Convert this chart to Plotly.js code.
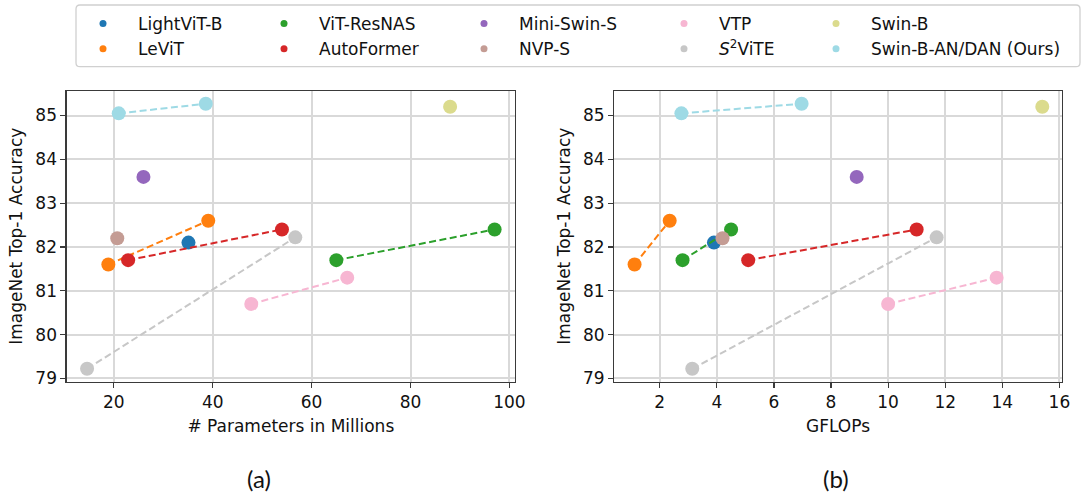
<!DOCTYPE html>
<html>
<head>
<meta charset="utf-8">
<script src="https://cdn.plot.ly/plotly-3.0.1.min.js"></script>
<style>html,body{margin:0;padding:0;background:#fff;}#chart{width:1082px;height:492px;}</style>
</head>
<body>
<div id="chart"></div>
<script>
// ---- data ----
const modelNames = ['LightViT-B','LeViT','ViT-ResNAS','AutoFormer','Mini-Swin-S','NVP-S','VTP','<i>S</i><sup>2</sup>ViTE','Swin-B','Swin-B-AN/DAN (Ours)'];
const modelColors = ['#1f77b4','#ff7f0e','#2ca02c','#d62728','#9467bd','#c49c94','#f7b6d2','#c7c7c7','#dbdb8d','#9edae5'];

const lightvitParams = [35.1],        lightvitGflops = [3.9],          lightvitAcc = [82.1];
const levitParams = [18.9, 39.1],     levitGflops = [1.12, 2.35],      levitAcc = [81.6, 82.6];
const vitresnasParams = [65, 97],     vitresnasGflops = [2.8, 4.5],    vitresnasAcc = [81.7, 82.4];
const autoformerParams = [22.9, 54],  autoformerGflops = [5.1, 11.0],  autoformerAcc = [81.7, 82.4];
const miniswinParams = [26],          miniswinGflops = [8.9],          miniswinAcc = [83.6];
const nvpParams = [20.7],             nvpGflops = [4.2],               nvpAcc = [82.2];
const vtpParams = [47.8, 67.2],       vtpGflops = [10.0, 13.8],        vtpAcc = [80.7, 81.3];
const s2viteParams = [14.6, 56.7],    s2viteGflops = [3.14, 11.7],     s2viteAcc = [79.22, 82.22];
const swinbParams = [88],             swinbGflops = [15.4],            swinbAcc = [85.2];
const oursParams = [21.0, 38.6],      oursGflops = [2.76, 6.97],       oursAcc = [85.05, 85.27];

const paramsList = [lightvitParams, levitParams, vitresnasParams, autoformerParams, miniswinParams, nvpParams, vtpParams, s2viteParams, swinbParams, oursParams];
const gflopsList = [lightvitGflops, levitGflops, vitresnasGflops, autoformerGflops, miniswinGflops, nvpGflops, vtpGflops, s2viteGflops, swinbGflops, oursGflops];
const accList = [lightvitAcc, levitAcc, vitresnasAcc, autoformerAcc, miniswinAcc, nvpAcc, vtpAcc, s2viteAcc, swinbAcc, oursAcc];

const xTickParams = [20, 40, 60, 80, 100];
const xTickGflops = [2, 4, 6, 8, 10, 12, 14, 16];
const yTicks = [79, 80, 81, 82, 83, 84, 85];

// ---- build ----
const W = 1082, H = 492;
const FONT = 'DejaVu Sans';
const traces = [];
for (let i = 0; i < modelNames.length; i++) {
  const base = {
    mode: 'lines+markers',
    y: accList[i],
    line: {color: modelColors[i], width: 2, dash: '7px,3.5px'},
    marker: {color: modelColors[i], size: 14, line: {width: 0}},
    showlegend: false,
    hoverinfo: 'skip'
  };
  traces.push(Object.assign({}, base, {x: paramsList[i], xaxis: 'x', yaxis: 'y'}));
  traces.push(Object.assign({}, base, {x: gflopsList[i], xaxis: 'x2', yaxis: 'y2'}));
}
// legend-only entries (5 columns x 2 rows)
const legendIds = ['legend','legend2','legend3','legend4','legend5'];
for (let i = 0; i < modelNames.length; i++) {
  traces.push({
    type: 'scatter', mode: 'markers', x: [null], y: [null],
    name: modelNames[i],
    marker: {color: modelColors[i], size: 7},
    legend: legendIds[Math.floor(i / 2)],
    showlegend: true, xaxis: 'x', yaxis: 'y'
  });
}

const textStarts = [138, 319, 519, 719, 871];
const legendBase = {
  orientation: 'v', xanchor: 'left', yanchor: 'top', y: 1 - 6 / H,
  bgcolor: 'rgba(0,0,0,0)', borderwidth: 0, itemwidth: 60,
  font: {family: FONT, size: 17, color: '#111'}, tracegroupgap: 0, itemclick: false
};

const axisCommon = {
  showline: true, mirror: true, linecolor: '#3a3a3a', linewidth: 1.3,
  ticks: 'outside', ticklen: 5, tickwidth: 1.2, tickcolor: '#3a3a3a',
  showgrid: true, gridcolor: '#d9d9d9', gridwidth: 2, zeroline: false,
  tickfont: {family: FONT, size: 17, color: '#111'}
};

const yDom = [1 - 381.5 / H, 1 - 91 / H];
const layout = {
  width: W, height: H,
  margin: {l: 0, r: 0, t: 0, b: 0},
  paper_bgcolor: '#fff', plot_bgcolor: '#fff',
  font: {family: FONT, size: 17, color: '#111'},
  xaxis: Object.assign({}, axisCommon, {
    domain: [66.7 / W, 515 / W], range: [10.48, 101.12], tickvals: xTickParams,
    title: {text: '# Parameters in Millions', font: {family: FONT, size: 17, color: '#111'}, standoff: 9}
  }),
  yaxis: Object.assign({}, axisCommon, {
    domain: yDom, range: [78.93, 85.56], tickvals: yTicks,
    title: {text: 'ImageNet Top-1 Accuracy', font: {family: FONT, size: 17, color: '#111'}, standoff: 8}
  }),
  xaxis2: Object.assign({}, axisCommon, {
    domain: [614.3 / W, 1061.7 / W], range: [0.41, 16.08], tickvals: xTickGflops, anchor: 'y2',
    title: {text: 'GFLOPs', font: {family: FONT, size: 17, color: '#111'}, standoff: 9}
  }),
  yaxis2: Object.assign({}, axisCommon, {
    domain: yDom, range: [78.93, 85.56], tickvals: yTicks, anchor: 'x2',
    title: {text: 'ImageNet Top-1 Accuracy', font: {family: FONT, size: 17, color: '#111'}, standoff: 8}
  }),
  shapes: [],
  annotations: [
    {text: '(a)', x: 259 / W, y: 1 - 478 / H, xref: 'paper', yref: 'paper', showarrow: false,
     xanchor: 'center', yanchor: 'middle', font: {family: 'Lato', size: 24, color: '#111'}},
    {text: '(b)', x: 836 / W, y: 1 - 478 / H, xref: 'paper', yref: 'paper', showarrow: false,
     xanchor: 'center', yanchor: 'middle', font: {family: 'Lato', size: 24, color: '#111'}}
  ]
};
legendIds.forEach((id, k) => {
  layout[id] = Object.assign({}, legendBase, {x: (textStarts[k] - 70) / W});
});

// rounded legend frame
(function () {
  const x0 = 76 / W, x1 = 1080 / W, yt = 1 - 5 / H, yb = 1 - 66.7 / H;
  const rx = 4 / W, ry = 4 / H;
  const p = `M ${x0 + rx} ${yt} L ${x1 - rx} ${yt} Q ${x1} ${yt} ${x1} ${yt - ry} L ${x1} ${yb + ry} Q ${x1} ${yb} ${x1 - rx} ${yb} L ${x0 + rx} ${yb} Q ${x0} ${yb} ${x0} ${yb + ry} L ${x0} ${yt - ry} Q ${x0} ${yt} ${x0 + rx} ${yt} Z`;
  layout.shapes.push({type: 'path', path: p, xref: 'paper', yref: 'paper',
    line: {color: '#d0d0d0', width: 1.3}, fillcolor: 'rgba(255,255,255,0.8)', layer: 'below'});
})();

Plotly.newPlot('chart', traces, layout, {displayModeBar: false, staticPlot: true});
</script>
</body>
</html>
